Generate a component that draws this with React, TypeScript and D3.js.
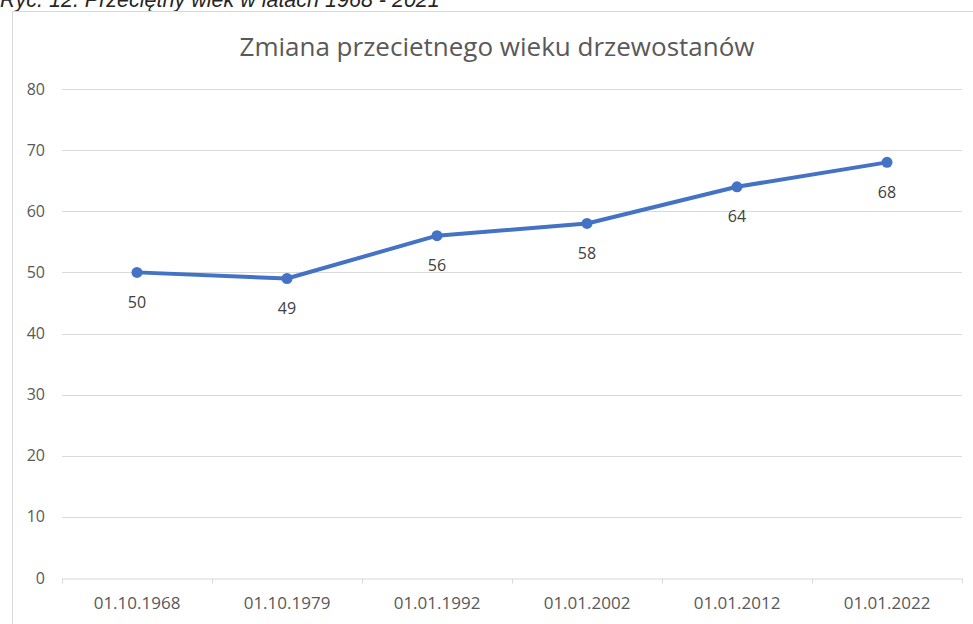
import React, { useEffect, useRef } from "react";
import * as d3 from "d3";

const categories = ["01.10.1968", "01.10.1979", "01.01.1992", "01.01.2002", "01.01.2012", "01.01.2022"];
const values = [50, 49, 56, 58, 64, 68];
const yTicks = [0, 10, 20, 30, 40, 50, 60, 70, 80];
const chartTitle = "Zmiana przecietnego wieku drzewostanów";
const caption = "Ryc. 12. Przeciętny wiek w latach 1968 - 2021";

const App = () => {
  const ref = useRef<SVGSVGElement | null>(null);

  useEffect(() => {
    const svg = d3.select(ref.current);
    svg.selectAll("*").remove();

    const W = 973;
    const H = 624;
    const margin = { top: 89, right: 11, bottom: 46, left: 62 };
    const font = "Open Sans, sans-serif";

    svg.attr("width", W).attr("height", H);
    svg.append("rect").attr("width", W).attr("height", H).attr("fill", "#fff");

    // caption, cut off at top like the scan
    svg
      .append("text")
      .attr("x", 0)
      .attr("y", 7)
      .attr("font-family", "Liberation Sans, Arial, sans-serif")
      .attr("font-style", "italic")
      .attr("font-size", 21.5)
      .attr("fill", "#262626")
      .text(caption);

    // chart frame
    svg
      .append("path")
      .attr("d", `M12.5,${H} L12.5,11.5 L${W},11.5`)
      .attr("fill", "none")
      .attr("stroke", "#d9d9d9");

    const x = d3
      .scaleBand()
      .domain(categories)
      .range([margin.left, W - margin.right]);
    const y = d3
      .scaleLinear()
      .domain([0, 80])
      .range([H - margin.bottom, margin.top]);

    // title
    svg
      .append("text")
      .attr("x", 497)
      .attr("y", 56)
      .attr("text-anchor", "middle")
      .attr("font-family", font)
      .attr("font-size", 26)
      .attr("fill", "#595959")
      .text(chartTitle);

    // gridlines
    svg
      .append("g")
      .selectAll("line")
      .data(yTicks.filter((d) => d > 0))
      .join("line")
      .attr("x1", margin.left)
      .attr("x2", W - margin.right)
      .attr("y1", (d) => Math.round(y(d)) + 0.5)
      .attr("y2", (d) => Math.round(y(d)) + 0.5)
      .attr("stroke", "#d9d9d9");

    // y labels
    svg
      .append("g")
      .selectAll("text")
      .data(yTicks)
      .join("text")
      .attr("x", 45)
      .attr("y", (d) => y(d))
      .attr("dy", "0.35em")
      .attr("text-anchor", "end")
      .attr("font-family", font)
      .attr("font-size", 16)
      .attr("fill", "#595959")
      .text((d) => d);

    // x axis
    const xAxis = svg
      .append("g")
      .attr("transform", `translate(0,${Math.round(y(0)) + 0.5})`)
      .call(d3.axisBottom(x).tickSize(0).tickPadding(18));
    xAxis.select(".domain").attr("stroke", "#d9d9d9");
    xAxis
      .selectAll("text")
      .attr("font-family", font)
      .attr("font-size", 17)
      .attr("fill", "#595959");
    const bounds = [...categories.map((c) => x(c) as number), W - margin.right];
    xAxis
      .selectAll("line.sep")
      .data(bounds)
      .join("line")
      .attr("class", "sep")
      .attr("x1", (d) => Math.round(d) + 0.5)
      .attr("x2", (d) => Math.round(d) + 0.5)
      .attr("y1", 0)
      .attr("y2", 5)
      .attr("stroke", "#d9d9d9");

    const cx = (d: string) => (x(d) as number) + x.bandwidth() / 2;

    const line = d3
      .line<number>()
      .x((_, i) => cx(categories[i]))
      .y((d) => y(d));

    svg
      .append("path")
      .datum(values)
      .attr("d", line)
      .attr("fill", "none")
      .attr("stroke", "#4472C4")
      .attr("stroke-width", 4)
      .attr("stroke-linejoin", "round");

    svg
      .append("g")
      .selectAll("circle")
      .data(values)
      .join("circle")
      .attr("cx", (_, i) => cx(categories[i]))
      .attr("cy", (d) => y(d))
      .attr("r", 5.5)
      .attr("fill", "#4472C4");

    svg
      .append("g")
      .selectAll("text")
      .data(values)
      .join("text")
      .attr("x", (_, i) => cx(categories[i]))
      .attr("y", (d) => y(d) + 30)
      .attr("dy", "0.35em")
      .attr("text-anchor", "middle")
      .attr("font-family", font)
      .attr("font-size", 16)
      .attr("fill", "#404040")
      .text((d) => d);
  }, []);

  return (
    <svg
      ref={ref}
      style={{ position: "absolute", left: 0, top: 0, display: "block" }}
    />
  );
};

export default App;
